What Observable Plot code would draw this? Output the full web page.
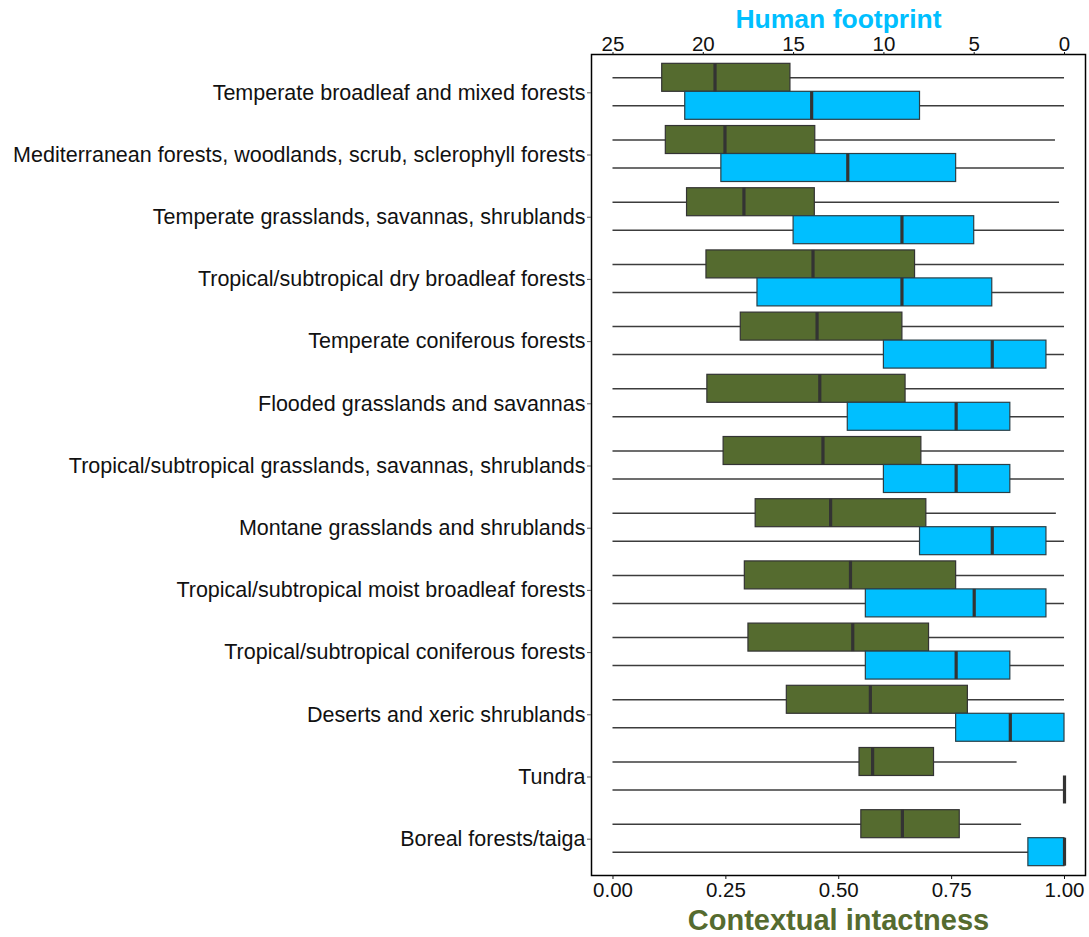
<!DOCTYPE html>
<html><head><meta charset="utf-8">
<script src="https://cdn.jsdelivr.net/npm/d3@7"></script>
<script src="https://cdn.jsdelivr.net/npm/@observablehq/plot@0.6"></script>
<style>
body{margin:0;background:#fff}
#chart svg{font-family:"Liberation Sans",Arial,sans-serif;background:#fff}
</style>
</head><body><div id="chart"></div>
<script>
const categories = [
  "Temperate broadleaf and mixed forests",
  "Mediterranean forests, woodlands, scrub, sclerophyll forests",
  "Temperate grasslands, savannas, shrublands",
  "Tropical/subtropical dry broadleaf forests",
  "Temperate coniferous forests",
  "Flooded grasslands and savannas",
  "Tropical/subtropical grasslands, savannas, shrublands",
  "Montane grasslands and shrublands",
  "Tropical/subtropical moist broadleaf forests",
  "Tropical/subtropical coniferous forests",
  "Deserts and xeric shrublands",
  "Tundra",
  "Boreal forests/taiga"
];
// Contextual intactness (0-1)
const ciMin = [0, 0, 0, 0, 0, 0, 0, 0, 0, 0, 0, 0, 0];
const ciQ1  = [0.109, 0.117, 0.164, 0.207, 0.283, 0.209, 0.245, 0.316, 0.292, 0.300, 0.385, 0.546, 0.550];
const ciMed = [0.226, 0.248, 0.290, 0.443, 0.452, 0.458, 0.465, 0.482, 0.526, 0.531, 0.570, 0.575, 0.641];
const ciQ3  = [0.393, 0.448, 0.447, 0.669, 0.641, 0.648, 0.683, 0.694, 0.760, 0.700, 0.786, 0.711, 0.768];
const ciMax = [1, 0.98, 0.989, 1, 1, 1, 1, 0.982, 1, 1, 1, 0.895, 0.905];
// Human footprint (0-25, axis reversed)
const hfMin = [0, 0, 0, 0, 0, 0, 0, 0, 0, 0, 0, 0, 0];
const hfQ1  = [8, 6, 5, 4, 1, 3, 3, 1, 1, 3, 0, 0, 0];
const hfMed = [14, 12, 9, 9, 4, 6, 6, 4, 5, 6, 3, 0, 0];
const hfQ3  = [21, 19, 15, 17, 10, 12, 10, 8, 11, 11, 6, 0, 2];
const hfMax = [25, 25, 25, 25, 25, 25, 25, 25, 25, 25, 25, 25, 25];
const ciTicks = [0, 0.25, 0.5, 0.75, 1];
const hfTicks = [25, 20, 15, 10, 5, 0];

const hfToX = v => 1 - v / 25;
const rows = categories.flatMap((c, i) => [
  {i, s: "ci", lo: ciMin[i], q1: ciQ1[i], med: ciMed[i], q3: ciQ3[i], hi: ciMax[i],
   y: i - 0.225, y1: i - 0.45, y2: i},
  {i, s: "hf", lo: hfToX(hfMax[i]), q1: hfToX(hfQ3[i]), med: hfToX(hfMed[i]), q3: hfToX(hfQ1[i]), hi: hfToX(hfMin[i]),
   y: i + 0.225, y1: i, y2: i + 0.45}
]);
const ci = rows.filter(d => d.s === "ci");
const hf = rows.filter(d => d.s === "hf");

const chart = Plot.plot({
  width: 1089,
  height: 937,
  marginLeft: 591,
  marginRight: 4,
  marginTop: 54,
  marginBottom: 62,
  style: {fontFamily: '"Liberation Sans", Arial, sans-serif', color: "#111"},
  x: {domain: [-0.0476, 1.0465]},
  y: {domain: [12.6, -0.6]},
  marks: [
    Plot.ruleY(rows, {y: "y", x1: "lo", x2: "hi", stroke: "#3c3c3c", strokeWidth: 1.5}),
    Plot.rect(ci, {x1: "q1", x2: "q3", y1: "y1", y2: "y2", fill: "#556B2F", stroke: "#333", strokeWidth: 1.2}),
    Plot.rect(hf, {x1: "q1", x2: "q3", y1: "y1", y2: "y2", fill: "#00BFFF", stroke: "#2a3f47", strokeWidth: 1.2}),
    Plot.ruleX(rows, {x: "med", y1: "y1", y2: "y2", stroke: "#333", strokeWidth: 3.2}),
    Plot.frame({stroke: "#000", strokeWidth: 1.5}),
    Plot.axisY({ticks: d3.range(categories.length), tickFormat: i => categories[i], tickSize: 4, tickPadding: 2,
      fontSize: 21.5, label: null, stroke: "#555", dy: 1}),
    Plot.axisX({anchor: "bottom", ticks: ciTicks, tickFormat: d3.format(".2f"), tickSize: 4, tickPadding: 3,
      fontSize: 20.5, label: null}),
    Plot.axisX({anchor: "top", ticks: hfTicks.map(hfToX), tickFormat: d => String(Math.round(25 * (1 - d))),
      tickSize: 3, tickPadding: 1, fontSize: 20.5, label: null}),
    Plot.text(["Human footprint"], {frameAnchor: "top", dy: -27, text: d => d, fill: "#00BFFF",
      fontSize: 26.5, fontWeight: "bold", lineAnchor: "bottom"}),
    Plot.text(["Contextual intactness"], {frameAnchor: "bottom", dy: 54, text: d => d, fill: "#556B2F",
      fontSize: 29, fontWeight: "bold", lineAnchor: "bottom"})
  ]
});
document.getElementById("chart").append(chart);
</script>
</body></html>
